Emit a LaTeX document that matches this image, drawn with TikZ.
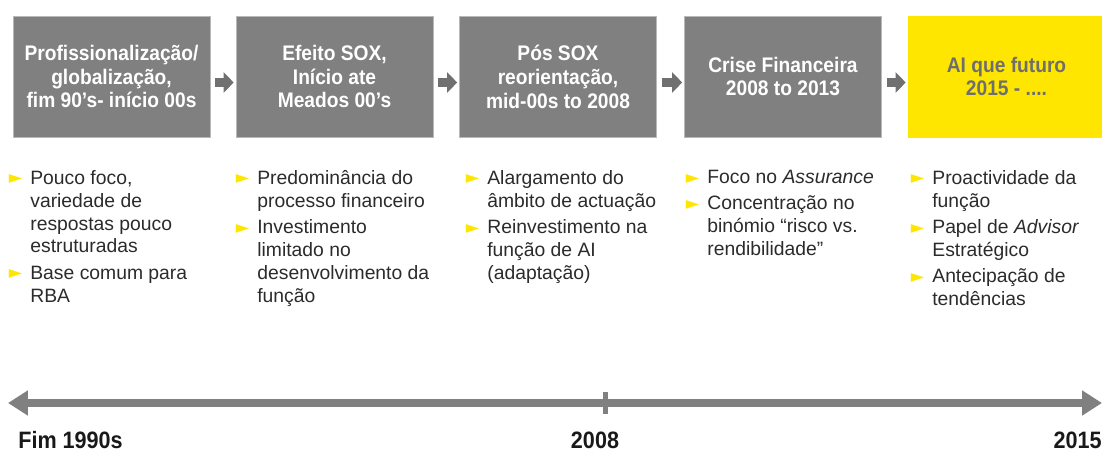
\documentclass[tikz,border=0pt]{standalone}
\usepackage{fontspec}
\setmainfont{Liberation Sans}
\newfontfamily\headfont[FakeStretch=0.91]{Liberation Sans}
\newfontfamily\symfont{DejaVu Sans}
\usetikzlibrary{arrows.meta}

\definecolor{boxgray}{HTML}{808080}
\definecolor{chevgray}{HTML}{707070}
\definecolor{eyyellow}{HTML}{FFE600}
\definecolor{bodytext}{HTML}{2B2B2B}
\definecolor{futtext}{HTML}{6E6E6E}
\definecolor{axisgray}{HTML}{808080}

\newcommand{\bul}{\llap{\textcolor{eyyellow}{\symfont\fontsize{10pt}{10pt}\selectfont\raisebox{0.3pt}{►}}\hspace{0.16cm}}}

\begin{document}
\begin{tikzpicture}[x=0.02cm, y=-0.02cm,
  phase/.style={minimum width=3.94cm, minimum height=2.42cm, inner sep=0, align=center,
    font=\headfont\bfseries\fontsize{12pt}{13.6pt}\selectfont, text=white, fill=boxgray, draw=gray!55},
  future/.style={phase, fill=eyyellow, draw=eyyellow, text=futtext},
  chev/.style={line width=0.18cm, draw=chevgray, -{Triangle[width=0.4cm,length=0.2cm]},
    shorten <=0.1cm, shorten >=0.04cm},
  notes/.style={anchor=north west, inner sep=0, align=left, text=bodytext,
    font=\fontsize{11pt}{13pt}\selectfont},
  yearlbl/.style={inner sep=0, text=black!90, font=\headfont\bfseries\fontsize{13.5pt}{15pt}\selectfont},
  >=Triangle
]
\useasboundingbox (0,0) rectangle (1102,452);

% phases
\node[phase]  (p1) at (111.5,76.5) {Profissionalização/\\globalização,\\fim 90’s- início 00s};
\node[phase]  (p2) at (334.5,76.5) {Efeito SOX,\\Início ate\\Meados 00’s};
\node[phase]  (p3) at (558,76.5) {Pós SOX\\reorientação,\\mid-00s to 2008};
\node[phase]  (p4) at (783,76.5) {Crise Financeira\\2008 to 2013};
\node[future] (p5) at (1006.5,76.5) {AI que futuro\\2015 - ....};

\draw[chev] ([yshift=-0.12cm]p1.east) -- ([yshift=-0.12cm]p2.west);
\draw[chev] ([yshift=-0.12cm]p2.east) -- ([yshift=-0.12cm]p3.west);
\draw[chev] ([yshift=-0.12cm]p3.east) -- ([yshift=-0.12cm]p4.west);
\draw[chev] ([yshift=-0.12cm]p4.east) -- ([yshift=-0.12cm]p5.west);

% notes under each phase
\node[notes] (n1) at (30,170) {\bul Pouco foco,\\variedade de\\respostas pouco\\estruturadas\\[0.07cm]
  \bul Base comum para\\RBA};
\node[notes] (n2) at (257,170) {\bul Predominância do\\processo financeiro\\[0.07cm]
  \bul Investimento\\limitado no\\desenvolvimento da\\função};
\node[notes] (n3) at (487,170) {\bul Alargamento do\\âmbito de actuação\\[0.07cm]
  \bul Reinvestimento na\\função de AI\\(adaptação)};
\node[notes] (n4) at (707,170) {\bul Foco no \textit{Assurance}\\[0.07cm]
  \bul Concentração no\\binómio “risco vs.\\rendibilidade”};
\node[notes] (n5) at (932,170) {\bul Proactividade da\\função\\[0.07cm]
  \bul Papel de \textit{Advisor}\\Estratégico\\[0.07cm]
  \bul Antecipação de\\tendências};

% timeline
\coordinate (tl) at (8,403);
\coordinate (tr) at (1102,403);
\draw[line width=0.15cm, draw=axisgray, {Triangle[width=0.48cm,length=0.4cm]}-{Triangle[width=0.48cm,length=0.4cm]}] (tl) -- (tr);
\node[fill=axisgray, inner sep=0, minimum width=0.1cm, minimum height=0.44cm] (tick) at (605,403) {};

\node[yearlbl, anchor=west] (y1) at (18,440) {Fim 1990s};
\node[yearlbl] (y2) at (595,440) {2008};
\node[yearlbl, anchor=east] (y3) at (1102,440) {2015};
\end{tikzpicture}
\end{document}
